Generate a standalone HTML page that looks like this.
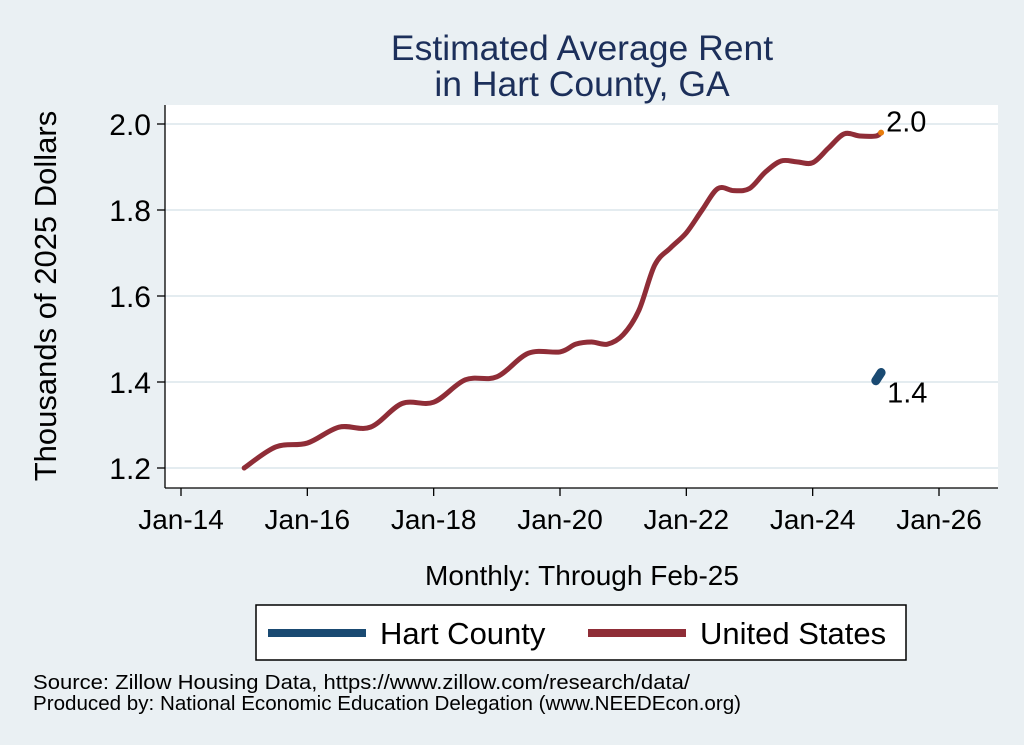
<!DOCTYPE html>
<html><head><meta charset="utf-8"><style>
body{margin:0;background:#eaf0f3;font-family:"Liberation Sans",sans-serif}
svg{display:block}
</style></head><body>
<svg id="c" width="1024" height="745" xmlns="http://www.w3.org/2000/svg">
<rect x="0" y="0" width="1024" height="745" fill="#eaf0f3"/>
<rect x="165" y="105" width="833" height="383" fill="#ffffff"/>
<text x="582" y="60" text-anchor="middle" font-size="35.5" fill="#1c2f5a">Estimated Average Rent</text>
<text x="582" y="96" text-anchor="middle" font-size="35.5" fill="#1c2f5a">in Hart County, GA</text>
<g id="grid"></g><g id="axes"></g><g id="series"></g>
<text x="56" y="296" text-anchor="middle" font-size="31" transform="rotate(-90 56 296)">Thousands of 2025 Dollars</text>
<text x="582" y="585" text-anchor="middle" font-size="28">Monthly: Through Feb-25</text>
<g>
<rect x="256" y="605" width="650" height="55" fill="#fff" stroke="#000" stroke-width="1.5"/>
<line x1="268" y1="633" x2="366" y2="633" stroke="#1a4a72" stroke-width="8"/>
<text x="380" y="644" font-size="31">Hart County</text>
<line x1="588" y1="633" x2="686" y2="633" stroke="#8f2d37" stroke-width="8"/>
<text x="700" y="644" font-size="31">United States</text>
</g>
<text x="33" y="689" font-size="20" textLength="657" lengthAdjust="spacingAndGlyphs">Source: Zillow Housing Data, https://www.zillow.com/research/data/</text>
<text x="33" y="710" font-size="20" textLength="708" lengthAdjust="spacingAndGlyphs">Produced by: National Economic Education Delegation (www.NEEDEcon.org)</text>
</svg>
<script>
const yTicks=[1.2,1.4,1.6,1.8,2.0];
const yTickLabels=["1.2","1.4","1.6","1.8","2.0"];
const xTickYears=[2014,2016,2018,2020,2022,2024,2026];
const xTickLabels=["Jan-14","Jan-16","Jan-18","Jan-20","Jan-22","Jan-24","Jan-26"];
const usDates=[2015,2015.5,2016,2016.5,2017,2017.5,2018,2018.5,2019,2019.5,2020,2020.25,2020.5,2020.75,2021,2021.25,2021.5,2021.75,2022,2022.25,2022.5,2022.75,2023,2023.25,2023.5,2023.75,2024,2024.25,2024.5,2024.75,2025,2025.083];
const usValues=[1.20,1.249,1.258,1.295,1.295,1.35,1.353,1.405,1.412,1.467,1.47,1.488,1.493,1.488,1.51,1.567,1.672,1.712,1.747,1.80,1.85,1.845,1.85,1.888,1.914,1.912,1.91,1.944,1.977,1.972,1.972,1.98];
const hartDates=[2025,2025.083];
const hartValues=[1.403,1.422];
const NS="http://www.w3.org/2000/svg";
const X=t=>181+(t-2014)*(758/12);
const Y=v=>124+(2.0-v)*430;
function mk(tag,attrs,parent){const e=document.createElementNS(NS,tag);for(const k in attrs)e.setAttribute(k,attrs[k]);document.getElementById(parent).appendChild(e);return e;}
yTicks.forEach((v,i)=>{
  const g=mk('line',{x1:165,x2:998,y1:Y(v),y2:Y(v),stroke:'#e4ecf0','stroke-width':2},'grid');
  
  
  const t=mk('line',{x1:157,x2:165,y1:Y(v),y2:Y(v),stroke:'#000','stroke-width':1.3},'axes');
  
  
  const l=mk('text',{x:151,y:Y(v)+11,'text-anchor':'end','font-size':30},'axes');
  l.textContent=yTickLabels[i];
  
  
});
const ax=mk('line',{x1:165,x2:165,y1:105,y2:488,stroke:'#000','stroke-width':1.3},'axes');


const bx=mk('line',{x1:165,x2:998,y1:488,y2:488,stroke:'#000','stroke-width':1.3},'axes');


xTickYears.forEach((yr,i)=>{
  const t=mk('line',{x1:X(yr),x2:X(yr),y1:488,y2:496,stroke:'#000','stroke-width':1.3},'axes');
  
  
  const l=mk('text',{x:X(yr),y:529,'text-anchor':'middle','font-size':28},'axes');
  l.textContent=xTickLabels[i];
  
  
});
function smooth(px){let d=`M${px[0][0]},${px[0][1]}`;for(let i=0;i<px.length-1;i++){const p0=px[i-1]||px[i],p1=px[i],p2=px[i+1],p3=px[i+2]||p2;d+=` C${p1[0]+(p2[0]-p0[0])/6},${p1[1]+(p2[1]-p0[1])/6} ${p2[0]-(p3[0]-p1[0])/6},${p2[1]-(p3[1]-p1[1])/6} ${p2[0]},${p2[1]}`;}return d;}
const us=mk('path',{d:smooth(usDates.map((d,i)=>[X(d),Y(usValues[i])])),fill:'none',stroke:'#8f2d37','stroke-width':5,'stroke-linecap':'round'},'series');


const hart=mk('path',{d:smooth(hartDates.map((d,i)=>[X(d),Y(hartValues[i])])),fill:'none',stroke:'#1a4a72','stroke-width':9,'stroke-linecap':'round'},'series');


const n=usDates.length-1;
const dot=mk('circle',{cx:X(usDates[n]),cy:Y(usValues[n]),r:3,fill:'#e87d0c'},'series');


const ul=mk('text',{x:X(usDates[n])+5,y:Y(usValues[n])-1,'font-size':29},'series');
ul.textContent=usValues[n].toFixed(1);


const m=hartDates.length-1;
const hl=mk('text',{x:X(hartDates[m])+6,y:Y(hartValues[0])+22,'font-size':29},'series');
hl.textContent=hartValues[m].toFixed(1);


</script>
</body></html>
